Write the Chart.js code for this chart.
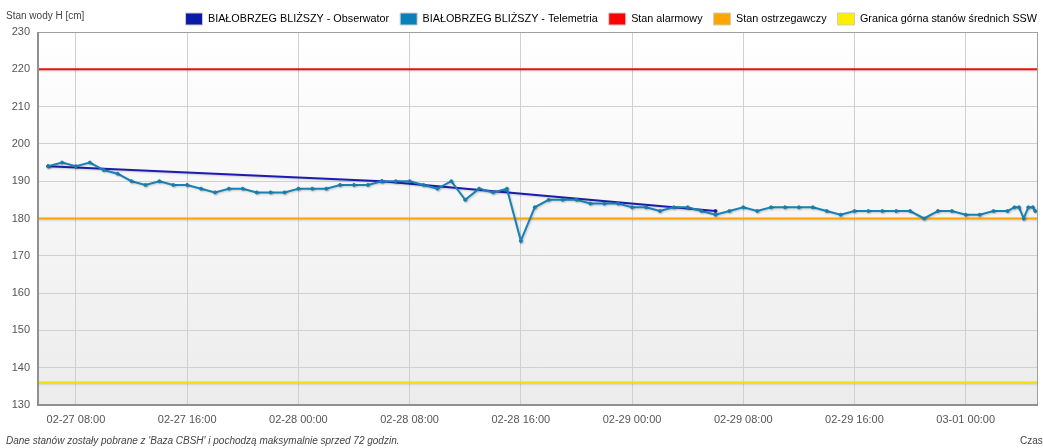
<!DOCTYPE html>
<html>
<head>
<meta charset="utf-8">
<script src="https://cdn.jsdelivr.net/npm/chart.js@4.4.1/dist/chart.umd.min.js"></script>
<style>
  html, body { margin: 0; padding: 0; background: #fff; }
  #wrap { position: relative; width: 1043px; height: 448px; font-family: "Liberation Sans", Arial, sans-serif; color: #444; }
  #c { position: absolute; left: 0; top: 0; }
  .lbl { position: absolute; font-size: 10px; white-space: nowrap; color: #444; }
</style>
</head>
<body>
<div id="wrap">
  <canvas id="c" width="1043" height="448"></canvas>
  <div class="lbl" style="left:6px; top:10px;">Stan wody H [cm]</div>
  <div class="lbl" style="left:6px; top:435px; font-style:italic;">Dane stanów zostały pobrane z 'Baza CBSH' i pochodzą maksymalnie sprzed 72 godzin.</div>
  <div class="lbl" style="left:1020px; top:435px;">Czas</div>
</div>
<script>
// ── Data ───────────────────────────────────────────────────────
// hours counted from 02-27 00:00
const tickHours = [8, 16, 24, 32, 40, 48, 56, 64, 72];
const tickLabels = ["02-27 08:00", "02-27 16:00", "02-28 00:00", "02-28 08:00", "02-28 16:00",
                    "02-29 00:00", "02-29 08:00", "02-29 16:00", "03-01 00:00"];

const observerHours = [6, 30, 54];
const observerValues = [194, 190, 182];

const telemetryHours = [
  6, 7, 8, 9, 10, 11, 12, 13, 14, 15, 16, 17, 18, 19, 20, 21, 22, 23,
  24, 25, 26, 27, 28, 29, 30, 31, 32, 33, 34, 35, 36, 37, 38, 39, 40, 41,
  42, 43, 44, 45, 46, 47, 48, 49, 50, 51, 52, 53, 54, 55, 56, 57, 58, 59,
  60, 61, 62, 63, 64, 65, 66, 67, 68, 69, 70, 71, 72, 73, 74, 75,
  75.5, 75.83, 76.17, 76.5, 76.83, 77
];
const telemetryValues = [
  194, 195, 194, 195, 193, 192, 190, 189, 190, 189, 189, 188, 187, 188, 188, 187, 187, 187,
  188, 188, 188, 189, 189, 189, 190, 190, 190, 189, 188, 190, 185, 188, 187, 188, 174, 183,
  185, 185, 185, 184, 184, 184, 183, 183, 182, 183, 183, 182, 181, 182, 183, 182, 183, 183,
  183, 183, 182, 181, 182, 182, 182, 182, 182, 180, 182, 182, 181, 181, 182, 182,
  183, 183, 180, 183, 183, 182
];

const alarmLevel = 220;
const warningLevel = 180;
const sswLevel = 136;

const xMin = 5.2, xMax = 77.2;

// ── Helpers ────────────────────────────────────────────────────
const toPoints = (xs, ys) => xs.map((x, i) => ({ x, y: ys[i] }));
const flat = (v) => [{ x: xMin, y: v }, { x: xMax, y: v }];

// plot background gradient + frame
const plotFrame = {
  id: "plotFrame",
  beforeDraw(chart) {
    const { ctx, chartArea: a } = chart;
    const g = ctx.createLinearGradient(0, a.top, 0, a.bottom);
    g.addColorStop(0, "#ffffff");
    g.addColorStop(1, "#ececec");
    ctx.save();
    ctx.fillStyle = g;
    ctx.fillRect(a.left, a.top, a.right - a.left, a.bottom - a.top);
    ctx.restore();
  },
  afterDraw(chart) {
    const { ctx, chartArea: a } = chart;
    ctx.save();
    ctx.strokeStyle = "#a0a0a0";
    ctx.lineWidth = 1;
    ctx.strokeRect(a.left + 0.5, a.top + 0.5, a.right - a.left - 1, a.bottom - a.top - 1);
    ctx.strokeStyle = "#909090";
    ctx.lineWidth = 2;
    ctx.beginPath();
    ctx.moveTo(a.left + 1, a.top);
    ctx.lineTo(a.left + 1, a.bottom);
    ctx.lineTo(a.right, a.bottom);
    ctx.stroke();
    ctx.restore();
  }
};

// soft shadow under the series lines
const lineShadow = {
  id: "lineShadow",
  beforeDatasetDraw(chart) {
    const ctx = chart.ctx;
    ctx.save();
    ctx.shadowColor = "rgba(0,0,0,0.18)";
    ctx.shadowOffsetX = 1;
    ctx.shadowOffsetY = 1;
    ctx.shadowBlur = 2;
  },
  afterDatasetDraw(chart) {
    chart.ctx.restore();
  }
};

// the legend runs nearly to the right edge of the picture
const legendShift = {
  id: "legendShift",
  afterLayout(chart) {
    chart.legend.left += 8;
    chart.legend.right += 8;
  }
};

const legendSwatch = ["#0a1aa8", "#0b7fb8", "#ff0000", "#ffa500", "#ffee00"];

new Chart(document.getElementById("c"), {
  type: "line",
  data: {
    datasets: [
      { label: "BIAŁOBRZEG BLIŻSZY - Obserwator", data: toPoints(observerHours, observerValues), order: 1,
        borderColor: "#1c1cae", backgroundColor: "#1c1cae", borderWidth: 2,
        pointRadius: 1.5, pointBorderWidth: 1 },
      { label: "BIAŁOBRZEG BLIŻSZY - Telemetria", data: toPoints(telemetryHours, telemetryValues), order: 0,
        borderColor: "#1a82b4", backgroundColor: "#1a82b4", borderWidth: 2,
        pointRadius: 1.5, pointBorderWidth: 1 },
      { label: "Stan alarmowy", data: flat(alarmLevel), order: 2,
        borderColor: "#ee1111", borderWidth: 2, pointRadius: 0 },
      { label: "Stan ostrzegawczy", data: flat(warningLevel), order: 2,
        borderColor: "#ffa500", borderWidth: 2, pointRadius: 0 },
      { label: "Granica górna stanów średnich SSW", data: flat(sswLevel), order: 2,
        borderColor: "#f5e000", borderWidth: 2, pointRadius: 0 }
    ]
  },
  options: {
    responsive: false,
    animation: false,
    events: [],
    layout: { padding: { top: 2, right: 3, left: 0, bottom: 20 } },
    plugins: {
      tooltip: { enabled: false },
      legend: {
        position: "top",
        align: "end",
        maxHeight: 30,
        labels: {
          boxWidth: 17,
          boxHeight: 12,
          padding: 11,
          color: "#333",
          font: { family: "Liberation Sans", size: 10.8 },
          generateLabels: (chart) => chart.data.datasets.map((d, i) => ({
            text: d.label,
            fillStyle: legendSwatch[i],
            strokeStyle: "#cccccc",
            lineWidth: 1,
            datasetIndex: i,
            hidden: false
          }))
        }
      }
    },
    scales: {
      x: {
        type: "linear",
        min: xMin,
        max: xMax,
        afterBuildTicks: (s) => { s.ticks = tickHours.map((v) => ({ value: v })); },
        afterFit: (s) => { s.height = 23; },
        grid: { color: "#d0d0d0", drawTicks: false },
        border: { display: false },
        ticks: {
          autoSkip: false,
          maxRotation: 0,
          padding: 8,
          color: "#555",
          font: { family: "Liberation Sans", size: 11 },
          callback: (v, i) => tickLabels[i]
        }
      },
      y: {
        min: 130,
        max: 230,
        afterFit: (s) => { s.width = 37; },
        grid: { color: "#d0d0d0", drawTicks: false },
        border: { display: false },
        ticks: {
          stepSize: 10,
          padding: 7,
          color: "#555",
          font: { family: "Liberation Sans", size: 11 }
        }
      }
    }
  },
  plugins: [plotFrame, lineShadow, legendShift]
});
</script>
</body>
</html>
